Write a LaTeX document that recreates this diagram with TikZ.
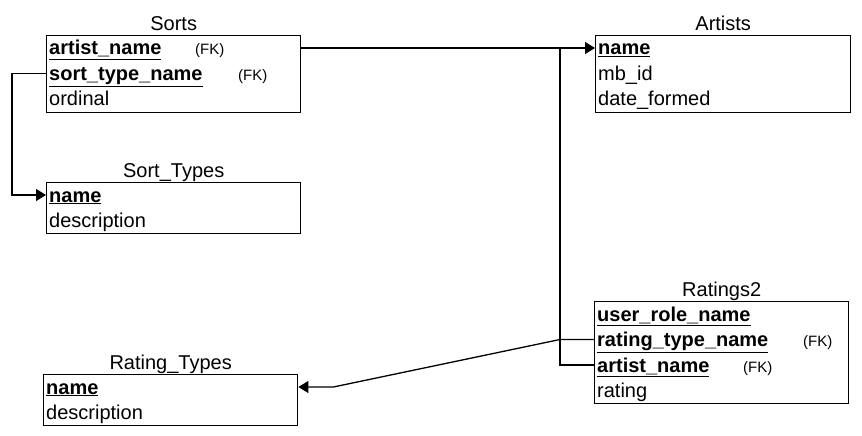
\documentclass[tikz,border=0pt]{standalone}
\usepackage{fontspec}
\setmainfont{Liberation Sans}
\usepackage{tikz}
\usetikzlibrary{arrows.meta,positioning,calc}

\tikzset{
  tbl/.style={draw, line width=1.4pt, inner sep=0pt, anchor=north west},
  ttl/.style={inner sep=0pt, anchor=base, font=\fontsize{20}{24}\selectfont},
  fld/.style={inner sep=0pt, anchor=west, text height=15pt, text depth=1pt, font=\fontsize{20}{24}\selectfont},
  fkey/.style={inner sep=0pt, anchor=west, text height=15pt, text depth=1pt, font=\fontsize{15}{18}\selectfont},
  link/.style={line width=1.3pt},
  fk/.style={link, -{Triangle[length=10pt, width=12pt]}}
}

\begin{document}
\begin{tikzpicture}[x=1pt, y=-1pt]
  \useasboundingbox (0,0) rectangle (862,436);

  % Sorts
  \node[tbl, minimum width=254pt, minimum height=77pt] (sorts) at (46,35) {};
  \node[ttl] at ([yshift=4.5pt]sorts.north) {Sorts};
  \node[fld] (sorts-artist) at (49,48) {\textbf{\underline{artist\_name}}};
  \node[fkey] at (195,48) {(FK)};
  \node[fld] (sorts-type) at (49,73.5) {\textbf{\underline{sort\_type\_name}}};
  \node[fkey] at (238,73.5) {(FK)};
  \node[fld] (sorts-ordinal) at (49,99) {ordinal};

  % Artists
  \node[tbl, minimum width=255pt, minimum height=77pt] (artists) at (595,35) {};
  \node[ttl] at ([yshift=4.5pt]artists.north) {Artists};
  \node[fld] (artists-name) at (598,48) {\textbf{\underline{name}}};
  \node[fld] (artists-mbid) at (598,73.5) {mb\_id};
  \node[fld] (artists-date) at (598,99) {date\_formed};

  % Sort_Types
  \node[tbl, minimum width=254pt, minimum height=51pt] (stypes) at (46,182) {};
  \node[ttl] at ([yshift=5pt]stypes.north) {Sort\_Types};
  \node[fld] (stypes-name) at (49,195) {\textbf{\underline{name}}};
  \node[fld] (stypes-desc) at (49,220.5) {description};

  % Ratings2
  \node[tbl, minimum width=254pt, minimum height=102pt] (ratings) at (594,301) {};
  \node[ttl] at ([yshift=5pt]ratings.north) {Ratings2};
  \node[fld] (ratings-user) at (597,314) {\textbf{\underline{user\_role\_name}}};
  \node[fld] (ratings-rtype) at (597,339.5) {\textbf{\underline{rating\_type\_name}}};
  \node[fkey] at (803,339.5) {(FK)};
  \node[fld] (ratings-artist) at (597,365) {\textbf{\underline{artist\_name}}};
  \node[fkey] at (743,365) {(FK)};
  \node[fld] (ratings-rating) at (597,390.5) {rating};

  % Rating_Types
  \node[tbl, minimum width=254pt, minimum height=51pt] (rtypes) at (43,374) {};
  \node[ttl] at ([yshift=5pt]rtypes.north) {Rating\_Types};
  \node[fld] (rtypes-name) at (46,387) {\textbf{\underline{name}}};
  \node[fld] (rtypes-desc) at (46,412.5) {description};

  % relations
  \coordinate (join) at (560,48);
  \draw[fk] (sorts.east |- sorts-artist) -- (artists.west |- artists-name);
  \draw[fk] (sorts.west |- sorts-type) -- ++(-34,0) |- (stypes.west |- stypes-name);
  \draw[link] (ratings.west |- ratings-artist) -| (join);
  \draw[fk] (ratings.west |- ratings-rtype) -- ++(-34,0)
    -- ($(rtypes.east |- rtypes-name)+(35,0)$) -- (rtypes.east |- rtypes-name);
\end{tikzpicture}
\end{document}
